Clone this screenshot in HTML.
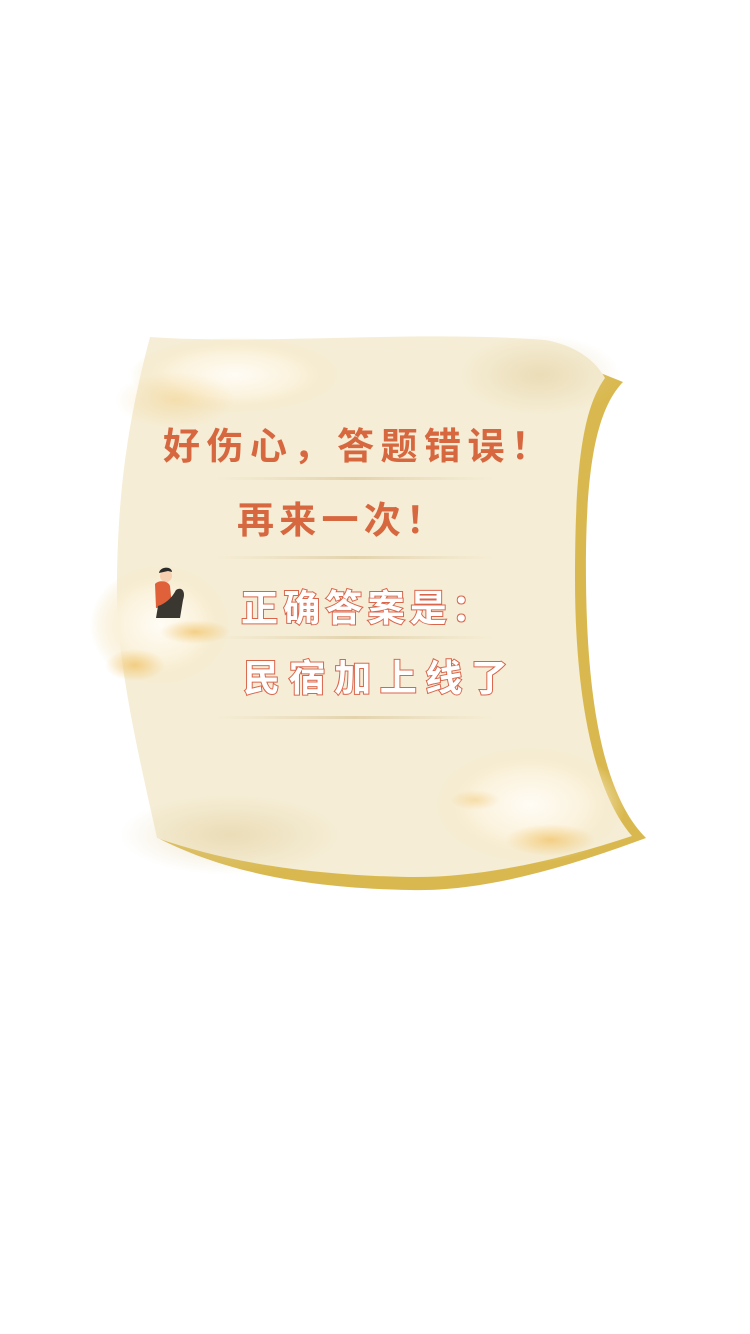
<!DOCTYPE html>
<html><head><meta charset="utf-8"><style>
html,body{margin:0;padding:0;background:#fff;width:750px;height:1334px;overflow:hidden}
svg{display:block}
.t{font-family:"Liberation Sans","WenQuanYi Zen Hei","Noto Sans CJK SC",sans-serif;font-weight:bold}
</style></head><body>
<svg width="750" height="1334" viewBox="0 0 750 1334">
<defs>
<radialGradient id="cl" cx="50%" cy="50%" r="50%">
<stop offset="0" stop-color="#fffcf5"/><stop offset="0.6" stop-color="#fbf2dc"/><stop offset="1" stop-color="#f5e6c0" stop-opacity="0"/>
</radialGradient>
<radialGradient id="cy" cx="50%" cy="50%" r="50%">
<stop offset="0" stop-color="#f0c060" stop-opacity="0.7"/><stop offset="1" stop-color="#f0c060" stop-opacity="0"/>
</radialGradient>
<radialGradient id="tx" cx="50%" cy="50%" r="50%">
<stop offset="0" stop-color="#e2cf9e" stop-opacity="0.55"/><stop offset="1" stop-color="#e2cf9e" stop-opacity="0"/>
</radialGradient>
<linearGradient id="ln" x1="0" x2="1"><stop offset="0" stop-color="#e6d9b8" stop-opacity="0"/><stop offset="0.5" stop-color="#e3d3ad"/><stop offset="1" stop-color="#e6d9b8" stop-opacity="0"/></linearGradient>
</defs>
<path d="M598,372 L623,382 C596,410 585,470 586,580 C587,700 603,795 646,838 C560,870 480,892 410,890 C300,888 220,870 158,838 Z" fill="#d9b94f"/>
<path d="M150,337 C260,345 420,330 545,340 C575,345 595,360 605,378 C582,410 575,470 575,580 C575,690 592,790 632,836 C560,860 480,878 410,877 C300,875 220,860 157,838 C140,760 115,660 117,580 C118,490 128,420 150,337 Z" fill="#f5edd5"/>
<ellipse cx="235" cy="375" rx="105" ry="38" fill="url(#cl)"/>
<ellipse cx="175" cy="400" rx="60" ry="28" fill="url(#cy)" opacity="0.45"/>
<ellipse cx="540" cy="375" rx="80" ry="40" fill="url(#tx)"/>
<ellipse cx="230" cy="835" rx="110" ry="40" fill="url(#tx)"/>
<ellipse cx="160" cy="625" rx="70" ry="60" fill="url(#cl)"/>
<ellipse cx="195" cy="632" rx="35" ry="12" fill="url(#cy)"/>
<ellipse cx="135" cy="665" rx="30" ry="16" fill="url(#cy)"/>
<ellipse cx="530" cy="805" rx="95" ry="58" fill="url(#cl)"/>
<ellipse cx="550" cy="840" rx="45" ry="16" fill="url(#cy)"/>
<ellipse cx="475" cy="800" rx="25" ry="10" fill="url(#cy)" opacity="0.6"/>
<g fill="url(#ln)">
<rect x="215" y="477" width="280" height="3"/>
<rect x="215" y="556" width="280" height="3"/>
<rect x="215" y="636" width="280" height="3"/>
<rect x="215" y="716" width="280" height="3"/>
</g>
<g>
<circle cx="166" cy="576" r="6" fill="#f6cfb0"/>
<path d="M159,573 C160,566 172,566 172,572 L168,571 Z" fill="#2b2b2b"/>
<path d="M155,584 C158,580 168,580 170,586 L172,606 L156,608 Z" fill="#e0603a"/>
<path d="M158,606 C165,604 172,598 176,590 C182,586 186,592 183,600 L180,618 L156,618 Z" fill="#3a3630"/>
</g>
<text class="t" x="163" y="459" font-size="37" fill="#d6673f" textLength="385" lengthAdjust="spacing">好伤心，答题错误！</text>
<text class="t" x="237" y="533" font-size="37" fill="#d6673f" textLength="206" lengthAdjust="spacing">再来一次！</text>
<text class="t" x="241" y="621" font-size="37" fill="#fff" stroke="#d9654b" stroke-width="2" paint-order="stroke" textLength="248" lengthAdjust="spacing">正确答案是：</text>
<text class="t" x="243" y="691" font-size="37" fill="#fff" stroke="#d9654b" stroke-width="2" paint-order="stroke" textLength="265" lengthAdjust="spacing">民宿加上线了</text>
</svg>
</body></html>
